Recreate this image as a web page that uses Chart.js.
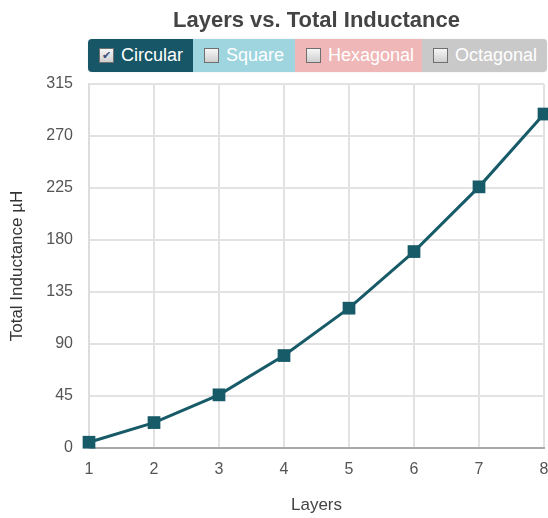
<!DOCTYPE html>
<html>
<head>
<meta charset="utf-8">
<script src="https://cdn.jsdelivr.net/npm/chart.js@4/dist/chart.umd.min.js"></script>
<style>
  body { margin: 0; background: #fff; font-family: "Liberation Sans", Arial, sans-serif; }
  #wrap { position: relative; width: 548px; height: 518px; overflow: hidden; }
  #legend { position: absolute; left: 88px; top: 39px; height: 33px; display: flex; border-radius: 4px; overflow: hidden; box-shadow: 0 0 1px rgba(0,0,0,0.25); }
  .btn { height: 33px; display: flex; align-items: center; padding-left: 11px; box-sizing: border-box; color: #fff; font-size: 18px; }
  .box { width: 13px; height: 13px; border: 1px solid #6f6f6f; background: linear-gradient(#f6f6f6, #cfcfcf); margin-right: 7px; font-size: 11px; line-height: 13px; text-align: center; color: #3a4f7a; }
</style>
</head>
<body>
<div id="wrap">
  <canvas id="myChart" width="548" height="518"></canvas>
  <div id="legend"></div>
</div>
<script>
const layers = ["1", "2", "3", "4", "5", "6", "7", "8"];
const circular = [5, 22, 46, 80, 121, 170, 226, 289];
const yTicks = [0, 45, 90, 135, 180, 225, 270, 315];
const shapes = ["Circular", "Square", "Hexagonal", "Octagonal"];
const shapeColors = ["#175666", "#9ed5df", "#efb7b7", "#c9c9c9"];
const shapeWidths = [105, 102, 127, 125];
const shapeOn = [true, false, false, false];

// legend buttons
let legend = document.getElementById("legend");
shapes.forEach((name, i) => {
  let b = document.createElement("div");
  b.className = "btn";
  b.style.background = shapeColors[i];
  b.style.width = shapeWidths[i] + "px";
  b.innerHTML = '<span class="box">' + (shapeOn[i] ? "✔" : "") + "</span>" + name;
  legend.appendChild(b);
});

const font = "'Liberation Sans', Arial, sans-serif";
let myCt = document.getElementById("myChart");
let myChart = new Chart(myCt, {
  type: "line",
  data: {
    labels: layers,
    datasets: [
      {
        label: shapes[0],
        data: circular,
        borderColor: "#175a68",
        backgroundColor: "#175a68",
        borderWidth: 3,
        pointStyle: "rect",
        pointRadius: 9,
        pointHoverRadius: 9,
        pointBorderWidth: 0,
        tension: 0,
        clip: false,
      },
    ],
  },
  options: {
    responsive: false,
    animation: false,
    layout: { padding: 0, autoPadding: false },
    plugins: {
      legend: { display: false },
      tooltip: { enabled: false },
      title: {
        display: true,
        text: "Layers vs. Total Inductance",
        fullSize: false,
        color: "#444",
        font: { family: font, size: 22, weight: "bold" },
        padding: { top: 8, bottom: 49.6 },
      },
    },
    scales: {
      x: {
        offset: false,
        grid: { color: "#e2e2e2", lineWidth: 2, drawTicks: false },
        border: { color: "#aaa", width: 2 },
        ticks: { color: "#555", padding: 12, font: { family: font, size: 16 }, maxRotation: 0 },
        title: { display: true, text: "Layers", color: "#444", font: { family: font, size: 17 }, padding: { top: 0, bottom: 2 } },
        afterFit: (s) => { s.height = 70; s.paddingRight = 4; },
      },
      y: {
        min: 0,
        max: 315,
        afterBuildTicks: (s) => { s.ticks = yTicks.map((v) => ({ value: v })); },
        grid: { color: "#e2e2e2", lineWidth: 2, drawTicks: false },
        border: { color: "#ddd", width: 2 },
        ticks: { color: "#555", padding: 16, font: { family: font, size: 16 } },
        title: { display: true, text: "Total Inductance µH", color: "#333", font: { family: font, size: 17 }, padding: { top: 7, bottom: 0 } },
        afterFit: (s) => { s.width = 89; },
      },
    },
  },
});
</script>
</body>
</html>
